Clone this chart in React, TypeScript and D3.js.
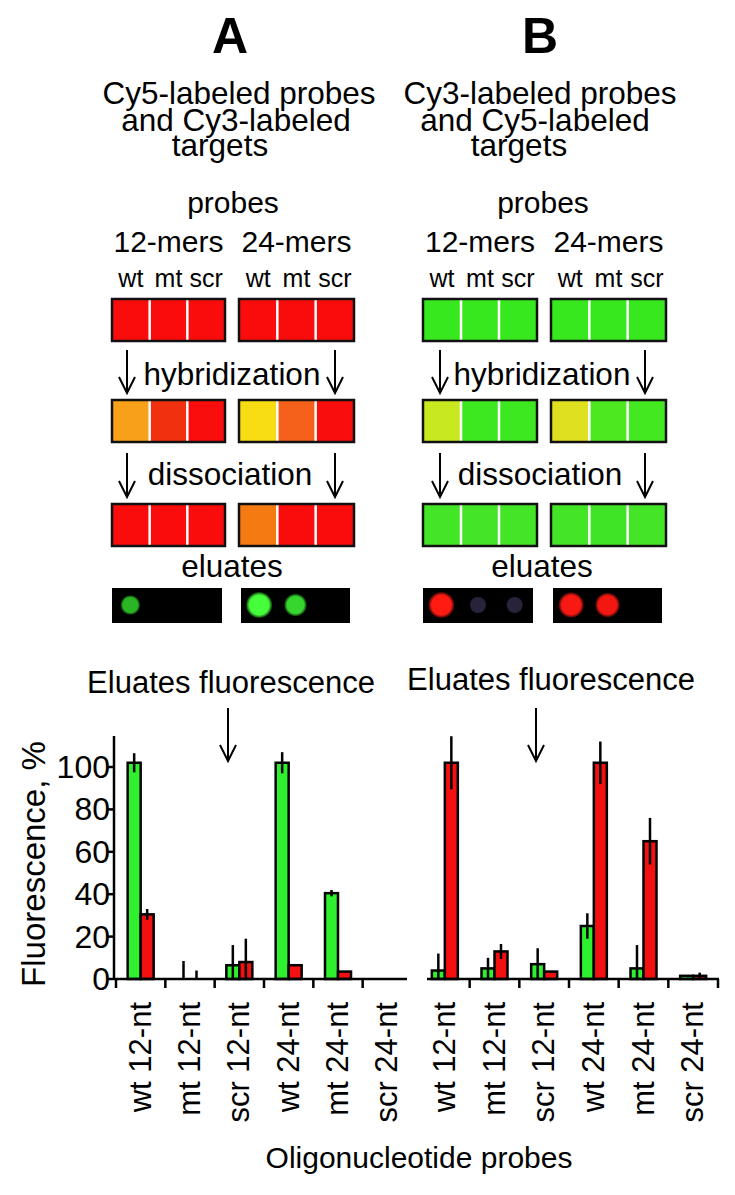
import React from 'react';
import * as d3 from 'd3';

// bar chart data (percent fluorescence of eluates)
const probes = ['wt 12-nt', 'mt 12-nt', 'scr 12-nt', 'wt 24-nt', 'mt 24-nt', 'scr 24-nt'];
const yTicks = [0, 20, 40, 60, 80, 100];

const greenA = [102, 0, 6.5, 102, 40.5, 0];
const greenErrA = [4.5, 8.5, 9.5, 5, 1.5, 0];
const redA = [30.5, 0, 8, 6.5, 3.5, 0];
const redErrA = [2.5, 4, 11, 0, 0, 0];

const greenB = [4, 5, 7, 25, 5, 1.5];
const greenErrB = [8, 5, 7.5, 6, 11, 0];
const redB = [102, 13, 3.5, 102, 65, 1.5];
const redErrB = [12.5, 3.5, 0, 10, 11, 1.5];

// schematic: spot colours of the 2 x 3 probe strips per step
const stripLabels = ['wt', 'mt', 'scr'];
const stepsA = [
  ['#fb0c0c', '#fb0c0c', '#fb0c0c', '#fb0c0c', '#fb0c0c', '#fb0c0c'],
  ['#f8a01a', '#f1300f', '#fa0d0d', '#f8dc14', '#f5601a', '#f90d0d'],
  ['#fa0c0c', '#fa0c0c', '#fa0c0c', '#f57a12', '#fa0c0c', '#fa0c0c'],
];
const stepsB = [
  ['#38e81e', '#38e81e', '#38e81e', '#38e81e', '#38e81e', '#38e81e'],
  ['#c8e820', '#3ee820', '#3ee820', '#dfe020', '#4ee820', '#44e820'],
  ['#44e426', '#44e426', '#44e426', '#44e426', '#40e426', '#44e426'],
];
// eluate spot intensities (0..1)
const eluateA = [0.55, 0, 0, 1, 0.75, 0];
const eluateB = [1, 0.15, 0.12, 0.95, 0.9, 0];

const FONT = 'Liberation Sans, Arial, sans-serif';
const GREEN = '#2ef02e';
const RED = '#f21010';

const y = d3.scaleLinear().domain([0, 100]).range([979, 767]);

function DownArrow({ x, y1, y2 }: { x: number; y1: number; y2: number }) {
  return (
    <g stroke="#000" strokeWidth={2} fill="none">
      <line x1={x} y1={y1} x2={x} y2={y2} />
      <path d={`M${x - 8},${y2 - 16} L${x},${y2} L${x + 8},${y2 - 16}`} />
    </g>
  );
}

function Strip({ x0, x1, top, colors }: { x0: number; x1: number; top: number; colors: string[] }) {
  const xs = d3.scaleBand<number>().domain([0, 1, 2]).range([x0, x1]);
  return (
    <g>
      {colors.map((c, i) => (
        <rect key={i} x={xs(i)} y={top} width={xs.bandwidth()} height={42} fill={c} />
      ))}
      {[1, 2].map((i) => (
        <line key={i} x1={xs(i)} x2={xs(i)} y1={top} y2={top + 42} stroke="#fff" strokeWidth={2.5} />
      ))}
      <rect x={x0} y={top} width={x1 - x0} height={42} fill="none" stroke="#111" strokeWidth={2.5} />
    </g>
  );
}

function Eluate({ x0, x1, vals, hue, id }: { x0: number; x1: number; vals: number[]; hue: 'g' | 'r'; id: string }) {
  const xs = d3.scaleBand<number>().domain([0, 1, 2]).range([x0 + 2, x1 + 2]);
  const cy = 605;
  return (
    <g>
      <rect x={x0} y={588} width={x1 - x0} height={35} fill="#000" />
      {vals.map((v, i) => {
        if (v <= 0) return null;
        const faint = v < 0.3;
        const r = faint ? 8 : 6 + 7 * v;
        return (
          <circle
            key={i}
            cx={(xs(i) as number) + xs.bandwidth() / 2 - 2}
            cy={cy}
            r={r}
            fill={faint ? '#28223a' : `url(#${id}${Math.round(v * 100)})`}
          />
        );
      })}
      <defs>
        {vals.filter((v) => v >= 0.3).map((v) => {
          const core = hue === 'g' ? d3.interpolateRgb('#0a5a0a', '#44ff3a')(v) : d3.interpolateRgb('#7a0808', '#ff1a12')(v);
          return (
            <radialGradient key={v} id={`${id}${Math.round(v * 100)}`}>
              <stop offset="0%" stopColor={core} />
              <stop offset="75%" stopColor={core} />
              <stop offset="100%" stopColor={core} stopOpacity={0.2} />
            </radialGradient>
          );
        })}
      </defs>
    </g>
  );
}

function Schematic({ cx, letter, lines, lineX, boxes, steps, eluate, hue, arrows }: any) {
  const rows = [299, 400, 504];
  return (
    <g fontFamily={FONT} fill="#000">
      <text x={cx} y={53} fontSize={50} fontWeight="bold" textAnchor="middle">{letter}</text>
      {lines.map((t: string, i: number) => (
        <text key={i} x={lineX[i]} y={[104, 131, 156][i]} fontSize={31.5} textAnchor="middle">{t}</text>
      ))}
      <text x={cx + 3} y={213} fontSize={30} textAnchor="middle">probes</text>
      <text x={(boxes[0][0] + boxes[0][1]) / 2} y={252} fontSize={30} textAnchor="middle">12-mers</text>
      <text x={(boxes[1][0] + boxes[1][1]) / 2} y={252} fontSize={30} textAnchor="middle">24-mers</text>
      {boxes.map((b: number[], bi: number) => {
        const xs = d3.scaleBand<number>().domain([0, 1, 2]).range([b[0], b[1]]);
        return stripLabels.map((s, i) => (
          <text key={`${bi}${i}`} x={(xs(i) as number) + xs.bandwidth() / 2} y={287} fontSize={25} textAnchor="middle">{s}</text>
        ));
      })}
      {rows.map((top, r) => (
        <g key={r}>
          <Strip x0={boxes[0][0]} x1={boxes[0][1]} top={top} colors={steps[r].slice(0, 3)} />
          <Strip x0={boxes[1][0]} x1={boxes[1][1]} top={top} colors={steps[r].slice(3)} />
        </g>
      ))}
      <DownArrow x={arrows[0]} y1={350} y2={393} />
      <DownArrow x={arrows[1]} y1={350} y2={393} />
      <text x={cx + 2} y={385} fontSize={31.5} textAnchor="middle">hybridization</text>
      <DownArrow x={arrows[0]} y1={453} y2={497} />
      <DownArrow x={arrows[1]} y1={453} y2={497} />
      <text x={cx} y={485} fontSize={31.5} textAnchor="middle">dissociation</text>
      <text x={cx + 2} y={577} fontSize={31.5} textAnchor="middle">eluates</text>
      <Eluate x0={boxes[0][0]} x1={boxes[0][0] + 110} vals={eluate.slice(0, 3)} hue={hue} id={`${letter}l`} />
      <Eluate x0={boxes[1][0] + 2} x1={boxes[1][0] + 111} vals={eluate.slice(3)} hue={hue} id={`${letter}r`} />
    </g>
  );
}

function Bars({ x, green, greenErr, red, redErr }: any) {
  const bw = 13;
  return (
    <g>
      {probes.map((p, i) => {
        const c = (x(p) as number) + x.bandwidth() / 2;
        const bars = [
          { v: green[i], e: greenErr[i], x0: c - bw, fill: GREEN },
          { v: red[i], e: redErr[i], x0: c, fill: RED },
        ];
        return (
          <g key={p}>
            {bars.map((b, j) =>
              b.v > 0 ? (
                <rect key={j} x={b.x0} y={y(b.v)} width={bw} height={y(0) - y(b.v)} fill={b.fill} stroke="#000" strokeWidth={2.5} />
              ) : null
            )}
            {bars.map((b, j) =>
              b.e > 0 ? (
                <line key={`e${j}`} x1={b.x0 + bw / 2} x2={b.x0 + bw / 2} y1={y(Math.max(0, b.v - b.e))} y2={y(b.v + b.e)} stroke="#000" strokeWidth={2.5} />
              ) : null
            )}
          </g>
        );
      })}
    </g>
  );
}

function XAxis({ x, lineFrom, lineTo, tickIdx }: any) {
  const step = x.step();
  const start = x.range()[0];
  return (
    <g>
      <line x1={lineFrom} x2={lineTo} y1={979} y2={979} stroke="#000" strokeWidth={2.5} />
      {tickIdx.map((i: number) => (
        <line key={i} x1={start + i * step} x2={start + i * step} y1={979} y2={988} stroke="#000" strokeWidth={2.5} />
      ))}
      {probes.map((p) => {
        const c = (x(p) as number) + x.bandwidth() / 2;
        return (
          <text key={p} transform={`translate(${c + 10},1002) rotate(-90)`} fontSize={31} textAnchor="end" fontFamily={FONT}>{p}</text>
        );
      })}
    </g>
  );
}

export default function App() {
  const xA = d3.scaleBand<string>().domain(probes).range([116, 412]);
  const xB = d3.scaleBand<string>().domain(probes).range([420, 718]);

  return (
    <svg width={735} height={1195} style={{ position: 'absolute', left: 0, top: 0, background: '#fff' }}>
      <Schematic
        cx={230}
        letter="A"
        lines={['Cy5-labeled probes', 'and Cy3-labeled', 'targets']}
        lineX={[239, 236, 220]}
        boxes={[[112, 225], [239, 354]]}
        steps={stepsA}
        eluate={eluateA}
        hue="g"
        arrows={[127, 335]}
      />
      <Schematic
        cx={540}
        letter="B"
        lines={['Cy3-labeled probes', 'and Cy5-labeled', 'targets']}
        lineX={[540, 535, 519]}
        boxes={[[423, 537], [551, 666]]}
        steps={stepsB}
        eluate={eluateB}
        hue="r"
        arrows={[440, 645]}
      />

      <g fontFamily={FONT}>
        <text x={231} y={693} fontSize={31} textAnchor="middle">Eluates fluorescence</text>
        <text x={551} y={690} fontSize={31} textAnchor="middle">Eluates fluorescence</text>
        <DownArrow x={228} y1={708} y2={761} />
        <DownArrow x={536} y1={708} y2={761} />

        {/* y axis */}
        <line x1={114} x2={114} y1={736} y2={980} stroke="#000" strokeWidth={2.5} />
        {yTicks.map((t) => (
          <g key={t}>
            <line x1={108} x2={114} y1={y(t)} y2={y(t)} stroke="#000" strokeWidth={2.5} />
            <text x={110} y={y(t) + 11} fontSize={32} textAnchor="end">{t}</text>
          </g>
        ))}
        <text transform="translate(45,864) rotate(-90)" fontSize={33} textAnchor="middle">Fluorescence, %</text>

        <Bars x={xA} green={greenA} greenErr={greenErrA} red={redA} redErr={redErrA} />
        <Bars x={xB} green={greenB} greenErr={greenErrB} red={redB} redErr={redErrB} />
        <XAxis x={xA} lineFrom={114} lineTo={407} tickIdx={[0, 1, 2, 3, 4, 5]} />
        <XAxis x={xB} lineFrom={427} lineTo={719} tickIdx={[1, 2, 3, 4, 5, 6]} />

        <text x={419} y={1168} fontSize={30} textAnchor="middle">Oligonucleotide probes</text>
      </g>
    </svg>
  );
}
